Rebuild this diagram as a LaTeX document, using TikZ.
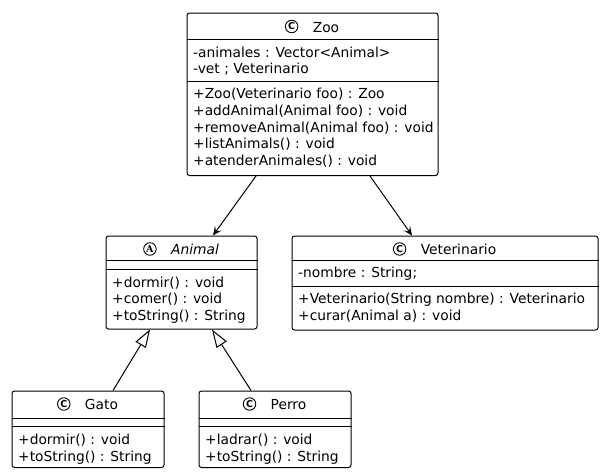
\documentclass[tikz,border=0pt]{standalone}
\usepackage{fontspec}
\setmainfont{DejaVu Sans}
\newfontfamily\iconsans{DejaVu Sans}
\newfontfamily\iconserif{DejaVu Serif}
\usetikzlibrary{arrows.meta,calc}
\newcommand{\umlfont}{\fontsize{13.8pt}{16.8pt}\selectfont}
\newcommand{\iconfont}{\fontsize{9.5pt}{9.5pt}\selectfont\bfseries}
\tikzset{
  box/.style={draw, line width=1pt, rounded corners=2.5pt, inner sep=0pt},
  sepline/.style={line width=1pt},
  mem/.style={anchor=base west, inner sep=0pt, font=\umlfont},
  ttl/.style={anchor=base, inner sep=0pt, font=\umlfont},
  icon/.style={circle, draw, line width=0.9pt, inner sep=0pt, minimum size=12.5pt},
  assoc/.style={-{Stealth[length=9pt,width=8pt,inset=4pt]}, line width=1pt},
  inh/.style={-{Triangle[open,length=18pt,width=12pt]}, line width=1pt},
}
\begin{document}
\begin{tikzpicture}[x=1pt,y=-1pt]
\useasboundingbox (0,0) rectangle (603,474);
% ---------- Zoo ----------
\node[box, minimum width=251pt, minimum height=162.5pt] (zoo) at (312.5,94.25) {};
\draw[sepline] (zoo.west |- 0,39.5) -- (zoo.east |- 0,39.5);
\draw[sepline] (zoo.west |- 0,81) -- (zoo.east |- 0,81);
\node[ttl] (zooT) at (326,32) {Zoo};
\node[icon] (zooI) at ($(zooT.base west)+(-21,-5.5)$) {\iconsans\iconfont C};
\node[mem] (zooa1) at (193,57) {-animales : Vector<Animal>};
\node[mem] (zooa2) at (193,73.8) {-vet ; Veterinario};
\node[mem] (zoom1) at (193,98.5) {+Zoo(Veterinario foo) : Zoo};
\node[mem] (zoom2) at (193,115.3) {+addAnimal(Animal foo) : void};
\node[mem] (zoom3) at (193,132.1) {+removeAnimal(Animal foo) : void};
\node[mem] (zoom4) at (193,148.9) {+listAnimals() : void};
\node[mem] (zoom5) at (193,165.7) {+atenderAnimales() : void};
% ---------- Animal ----------
\node[box, minimum width=151pt, minimum height=93pt] (animal) at (181.5,282.5) {};
\draw[sepline] (animal.west |- 0,260) -- (animal.east |- 0,260);
\draw[sepline] (animal.west |- 0,269.5) -- (animal.east |- 0,269.5);
\node[ttl] (animalT) at (195,254.5) {\itshape Animal};
\node[icon] (animalI) at ($(animalT.base west)+(-21,-5.5)$) {\iconserif\iconfont A};
\node[mem] (anm1) at (112,287) {+dormir() : void};
\node[mem] (anm2) at (112,303.8) {+comer() : void};
\node[mem] (anm3) at (112,320.6) {+toString() : String};
% ---------- Veterinario ----------
\node[box, minimum width=306pt, minimum height=94pt] (vet) at (445,283) {};
\draw[sepline] (vet.west |- 0,260) -- (vet.east |- 0,260);
\draw[sepline] (vet.west |- 0,286) -- (vet.east |- 0,286);
\node[ttl] (vetT) at (458.5,254.5) {Veterinario};
\node[icon] (vetI) at ($(vetT.base west)+(-21,-5.5)$) {\iconsans\iconfont C};
\node[mem] (veta1) at (298,277.5) {-nombre : String;};
\node[mem] (vetm1) at (298,303.5) {+Veterinario(String nombre) : Veterinario};
\node[mem] (vetm2) at (298,320.3) {+curar(Animal a) : void};
% ---------- Gato ----------
\node[box, minimum width=152pt, minimum height=76.5pt] (gato) at (88,429.25) {};
\draw[sepline] (gato.west |- 0,418) -- (gato.east |- 0,418);
\draw[sepline] (gato.west |- 0,426.5) -- (gato.east |- 0,426.5);
\node[ttl] (gatoT) at (101.5,409.5) {Gato};
\node[icon] (gatoI) at ($(gatoT.base west)+(-21,-5.5)$) {\iconsans\iconfont C};
\node[mem] (gatom1) at (18,444.5) {+dormir() : void};
\node[mem] (gatom2) at (18,461) {+toString() : String};
% ---------- Perro ----------
\node[box, minimum width=152pt, minimum height=76.5pt] (perro) at (275,429.25) {};
\draw[sepline] (perro.west |- 0,418) -- (perro.east |- 0,418);
\draw[sepline] (perro.west |- 0,426.5) -- (perro.east |- 0,426.5);
\node[ttl] (perroT) at (288.5,409.5) {Perro};
\node[icon] (perroI) at ($(perroT.base west)+(-21,-5.5)$) {\iconsans\iconfont C};
\node[mem] (perrom1) at (205,444.5) {+ladrar() : void};
\node[mem] (perrom2) at (205,461) {+toString() : String};
% ---------- connectors ----------
\draw[assoc] ([xshift=-56.5pt]zoo.south) -- ([xshift=31.5pt]animal.north);
\draw[assoc] ([xshift=57.5pt]zoo.south) -- ([xshift=-33pt]vet.north);
\draw[inh] ([xshift=25pt]gato.north) -- ([xshift=-31.5pt]animal.south);
\draw[inh] ([xshift=-24pt]perro.north) -- ([xshift=30.5pt]animal.south);
\end{tikzpicture}
\end{document}
